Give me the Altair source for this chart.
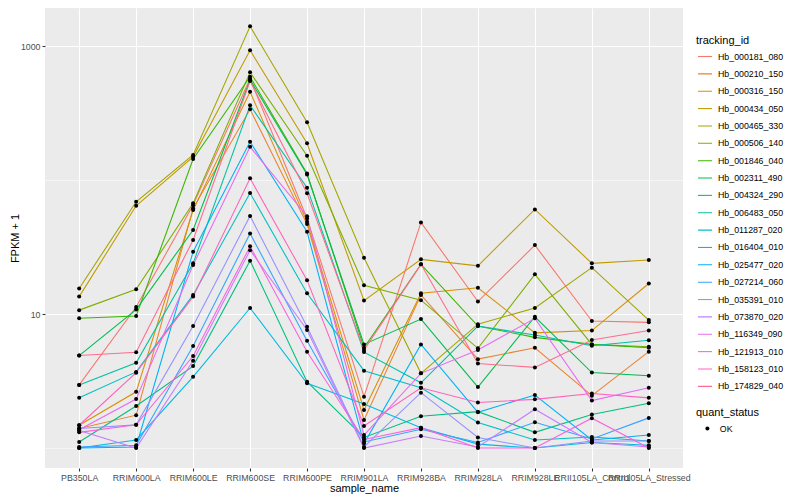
import altair as alt
import pandas as pd

samples = ["PB350LA", "RRIM600LA", "RRIM600LE", "RRIM600SE", "RRIM600PE", "RRIM901LA",
           "RRIM928BA", "RRIM928LA", "RRIM928LE", "RRII105LA_Control", "RRII105LA_Stressed"]

tracking_ids = ["Hb_000181_080", "Hb_000210_150", "Hb_000316_150", "Hb_000434_050", "Hb_000465_330",
                "Hb_000506_140", "Hb_001846_040", "Hb_002311_490", "Hb_004324_290", "Hb_006483_050",
                "Hb_011287_020", "Hb_016404_010", "Hb_025477_020", "Hb_027214_060", "Hb_035391_010",
                "Hb_073870_020", "Hb_116349_090", "Hb_121913_010", "Hb_158123_010", "Hb_174829_040"]

# FPKM + 1 per sample (same order as samples)
Hb_000181_080 = [2.96, 11.3, 65, 571, 51.7, 2.42, 48.3, 12.4, 32.7, 8.87, 8.67]
Hb_000210_150 = [1.40, 1.76, 61.5, 337, 46.9, 1.62, 13.9, 4.61, 5.6, 2.46, 5.24]
Hb_000316_150 = [1.48, 2.63, 59.7, 456, 48.8, 1.92, 14.3, 15.7, 7.24, 7.53, 16.9]
Hb_000434_050 = [13.5, 64.3, 149, 929, 188, 12.6, 25.6, 22.9, 60.4, 23.9, 25.3]
Hb_000465_330 = [15.5, 68.9, 154, 1403, 270, 26.3, 3.61, 8.41, 11.1, 22.2, 9.02]
Hb_000506_140 = [10.7, 15.3, 67, 637, 152, 16.4, 12.7, 5.55, 19.8, 5.94, 5.70]
Hb_001846_040 = [9.3, 9.67, 143.5, 590, 112, 5.61, 23.5, 8.13, 6.70, 5.94, 5.60]
Hb_002311_490 = [4.9, 10.8, 42.4, 560, 110, 5.94, 9.18, 2.85, 9.55, 3.66, 3.47]
Hb_004324_290 = [1.11, 2.06, 4.09, 25, 3.13, 1.20, 1.73, 1.87, 1.31, 1.78, 2.16]
Hb_006483_050 = [2.96, 4.33, 23.9, 361, 87.7, 5.20, 3.07, 8.13, 6.97, 5.80, 6.37]
Hb_011287_020 = [2.37, 3.70, 13.9, 80, 14.3, 3.78, 2.82, 1.55, 1.15, 1.21, 1.13]
Hb_016404_010 = [1.0, 1.15, 3.40, 11.1, 3.04, 2.13, 1.42, 1.07, 1.0, 1.10, 1.05]
Hb_025477_020 = [1.0, 1.02, 29.2, 193, 41.1, 1.08, 5.94, 1.85, 2.49, 1.15, 1.25]
Hb_027214_060 = [1.02, 1.05, 5.77, 40, 6.32, 1.11, 1.38, 1.10, 1.56, 1.17, 1.68]
Hb_035391_010 = [1.40, 1.49, 8.13, 54, 8.04, 1.02, 2.59, 1.20, 1.0, 1.13, 1.13]
Hb_073870_020 = [1.35, 1.0, 4.48, 30, 7.60, 1.0, 1.23, 1.02, 1.95, 1.10, 1.02]
Hb_116349_090 = [1.37, 2.32, 23.2, 177, 53.8, 1.25, 3.61, 5.39, 9.29, 2.26, 2.82]
Hb_121913_010 = [1.31, 1.49, 4.86, 32, 5.24, 1.16, 1.42, 1.0, 1.0, 1.67, 1.0]
Hb_158123_010 = [1.48, 3.65, 13.5, 103, 17.9, 1.46, 2.82, 2.19, 2.31, 2.55, 2.37]
Hb_174829_040 = [4.9, 5.18, 35.7, 548, 79.6, 5.39, 23.5, 4.28, 4.0, 6.40, 7.53]

series_values = [Hb_000181_080, Hb_000210_150, Hb_000316_150, Hb_000434_050, Hb_000465_330,
                 Hb_000506_140, Hb_001846_040, Hb_002311_490, Hb_004324_290, Hb_006483_050,
                 Hb_011287_020, Hb_016404_010, Hb_025477_020, Hb_027214_060, Hb_035391_010,
                 Hb_073870_020, Hb_116349_090, Hb_121913_010, Hb_158123_010, Hb_174829_040]

hue_colors = ["#F8766D", "#EA8331", "#D89000", "#C09B00", "#A3A500", "#7CAE00", "#39B600",
              "#00BB4E", "#00BF7D", "#00C1A3", "#00BFC4", "#00BAE0", "#00B0F6", "#35A2FF",
              "#9590FF", "#C77CFF", "#E76BF3", "#FA62DB", "#FF62BC", "#FF6C91"]

rows = []
for tid, vals in zip(tracking_ids, series_values):
    for s, v in zip(samples, vals):
        rows.append({"tracking_id": tid, "sample_name": s, "fpkm": v, "quant_status": "OK"})
df = pd.DataFrame(rows)

FONT = "Liberation Sans"

x_enc = alt.X("sample_name:N", sort=samples,
              scale=alt.Scale(type="point", padding=0.6),
              axis=alt.Axis(title="sample_name", labelOverlap=False, labelBound=False,
                            labelAngle=0, tickSize=3, labelPadding=2, titlePadding=1,
                            gridWidth=1.07))

major_test = "datum.value == 10 || datum.value == 1000"
y_enc = alt.Y("fpkm:Q",
              scale=alt.Scale(type="log", domain=[0.71, 1923], nice=False),
              axis=alt.Axis(title="FPKM + 1", values=[1, 10, 100, 1000],
                            labelExpr="datum.value == 10 ? '10' : (datum.value == 1000 ? '1000' : '')",
                            tickColor={"condition": {"test": major_test, "value": "#333333"},
                                       "value": "transparent"},
                            gridWidth={"condition": {"test": major_test, "value": 1.07},
                                       "value": 0.53},
                            tickSize=3, labelPadding=2, titlePadding=0))

lines = alt.Chart(df).mark_line(strokeWidth=1.07).encode(
    x=x_enc, y=y_enc,
    color=alt.Color("tracking_id:N",
                    scale=alt.Scale(domain=tracking_ids, range=hue_colors),
                    legend=alt.Legend(title="tracking_id", orient="none", legendX=651, legendY=27,
                                      symbolType="stroke", symbolSize=196, symbolStrokeWidth=1.07,
                                      symbolOffset=1, labelOffset=5, clipHeight=17,
                                      rowPadding=0.36, titlePadding=2, padding=0)),
)

points = alt.Chart(df).mark_point(filled=True, size=16, color="black", opacity=1).encode(
    x=x_enc, y=y_enc,
    shape=alt.Shape("quant_status:N", scale=alt.Scale(range=["circle"]),
                    legend=alt.Legend(title="quant_status", orient="none", legendX=651, legendY=399,
                                      symbolFillColor="black", symbolStrokeColor="black",
                                      symbolSize=16, symbolOffset=7, labelOffset=8,
                                      clipHeight=17, rowPadding=0, titlePadding=2, padding=0)),
)

chart = alt.layer(lines, points).properties(
    width=638, height=460,
    autosize=alt.AutoSizeParams(type="none"),
    padding={"left": 37, "top": 0, "right": 109, "bottom": 30},
).configure_view(
    fill="#EBEBEB", stroke=None
).configure_axis(
    domain=False, grid=True, gridColor="white",
    labelFont=FONT, labelFontSize=8.8, labelColor="#4D4D4D",
    titleFont=FONT, titleFontSize=11, titleColor="black", titleFontWeight="normal",
    tickColor="#333333", tickWidth=1.07
).configure_legend(
    labelFont=FONT, labelFontSize=8.8, labelColor="black",
    titleFont=FONT, titleFontSize=11, titleColor="black", titleFontWeight="normal"
)

chart.save("out.html", embed_options={"renderer": "svg", "actions": False})
